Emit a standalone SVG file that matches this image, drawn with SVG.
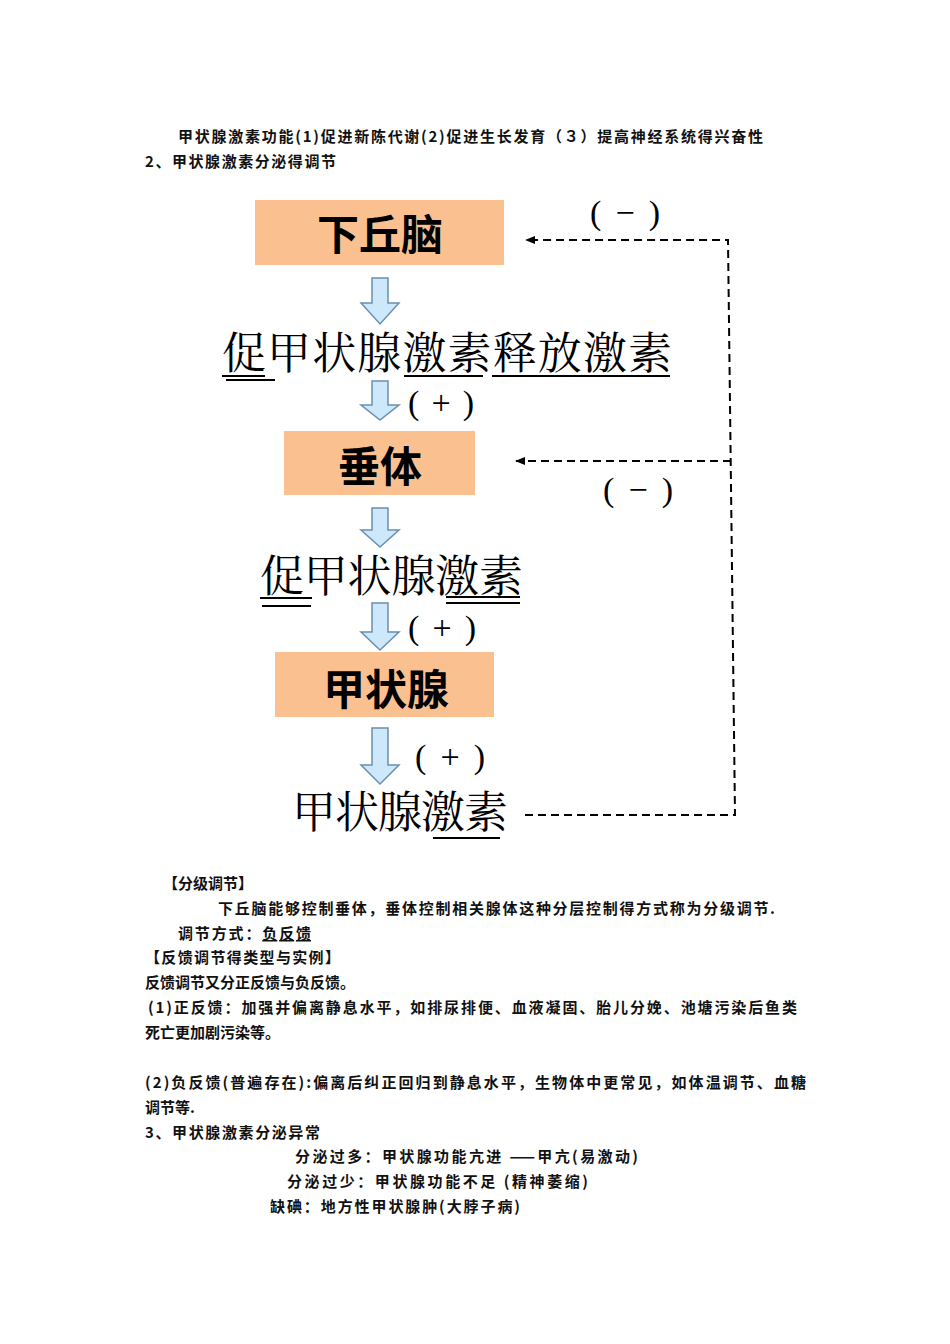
<svg xmlns="http://www.w3.org/2000/svg" width="950" height="1344" viewBox="0 0 950 1344">
<style>
.t{font-family:"Noto Sans CJK SC","Liberation Sans",sans-serif;font-size:15px;font-weight:bold;fill:#111}
.box{fill:#fac090}
.bl{font-family:"Noto Sans CJK SC",sans-serif;font-size:42px;font-weight:bold;fill:#000;text-anchor:middle}
.big{font-family:"Noto Serif CJK SC","Noto Sans CJK SC",serif;font-size:44px;fill:#000}
.sign{font-family:"Liberation Serif",serif;font-size:34px;fill:#000}
.arr{fill:#cce8fa;stroke:#6a8fb0;stroke-width:1.5}
.ul{stroke:#000;stroke-width:2}
.dash{fill:none;stroke:#000;stroke-width:2;stroke-dasharray:8 5}
</style>
<defs><marker id="ah" markerWidth="10" markerHeight="8" refX="9" refY="4" orient="auto" markerUnits="userSpaceOnUse"><path d="M0,0 L10,4 L0,8 Z" fill="#000"/></marker></defs>
<text class="t" x="178" y="142" textLength="585">甲状腺激素功能(1)促进新陈代谢(2)促进生长发育（３）提高神经系统得兴奋性</text>
<text class="t" x="145" y="167" textLength="191">2、甲状腺激素分泌得调节</text>
<g id="n1"><rect class="box" x="255" y="200" width="249" height="65"/><text class="bl" x="380" y="250">下丘脑</text></g>
<g id="n2"><text class="big" x="222" y="369" textLength="450">促甲状腺激素释放激素</text>
<line class="ul" x1="222" y1="376" x2="265" y2="376"/><line class="ul" x1="226" y1="380" x2="275" y2="380"/><line class="ul" x1="404" y1="376" x2="483" y2="376"/><line class="ul" x1="492" y1="376" x2="670" y2="376"/></g>
<g id="n3"><rect class="box" x="284" y="431" width="191" height="64"/><text class="bl" x="380" y="482">垂体</text></g>
<g id="n4"><text class="big" x="260" y="592" textLength="263">促甲状腺激素</text>
<line class="ul" x1="260" y1="598" x2="312" y2="598"/><line class="ul" x1="262" y1="606" x2="311" y2="606"/><line class="ul" x1="446" y1="597" x2="520" y2="597"/><line class="ul" x1="446" y1="603" x2="520" y2="603"/></g>
<g id="n5"><rect class="box" x="275" y="652" width="219" height="65"/><text class="bl" x="386" y="705">甲状腺</text></g>
<g id="n6"><text class="big" x="292" y="828" textLength="216">甲状腺激素</text><line class="ul" x1="433" y1="838" x2="500" y2="838"/></g>
<g id="connectors">
<path class="arr" d="M372,278 H388 V303 H399 L380,324 L361,303 H372 Z"/>
<path class="arr" d="M372,381 H388 V405 H399 L380,420 L361,405 H372 Z"/>
<path class="arr" d="M372,508 H388 V530 H399 L380,547 L361,530 H372 Z"/>
<path class="arr" d="M372,603 H388 V632 H399 L380,650 L361,632 H372 Z"/>
<path class="arr" d="M372,728 H388 V765 H399 L380,784 L361,765 H372 Z"/>
<text class="sign" x="408" y="414" textLength="66">(+)</text>
<text class="sign" x="408" y="639" textLength="68">(+)</text>
<text class="sign" x="415" y="768" textLength="70">(+)</text>
<text class="sign" x="590" y="224" textLength="70">(−)</text>
<text class="sign" x="603" y="501" textLength="70">(−)</text>
<path class="dash" d="M525,815 H735 L728,240 H526" marker-end="url(#ah)"/>
<path class="dash" d="M731,461 H516" marker-end="url(#ah)"/>
</g>
<text class="t" x="163" y="889">【分级调节】</text>
<text class="t" x="218" y="914" textLength="557">下丘脑能够控制垂体，垂体控制相关腺体这种分层控制得方式称为分级调节.</text>
<text class="t" x="178" y="939" textLength="133">调节方式：<tspan text-decoration="underline">负反馈</tspan></text>
<text class="t" x="145" y="963" textLength="195">【反馈调节得类型与实例】</text>
<text class="t" x="145" y="988">反馈调节又分正反馈与负反馈。</text>
<text class="t" x="148" y="1013" textLength="649">(1)正反馈：加强并偏离静息水平，如排尿排便、血液凝固、胎儿分娩、池塘污染后鱼类</text>
<text class="t" x="145" y="1038">死亡更加剧污染等。</text>
<text class="t" x="145" y="1088" textLength="661">(2)负反馈(普遍存在):偏离后纠正回归到静息水平，生物体中更常见，如体温调节、血糖</text>
<text class="t" x="145" y="1113">调节等.</text>
<text class="t" x="145" y="1138" textLength="175">3、甲状腺激素分泌异常</text>
<text class="t" x="295" y="1162" textLength="343">分泌过多：甲状腺功能亢进 ——甲亢(易激动)</text>
<text class="t" x="287" y="1187" textLength="301">分泌过少：甲状腺功能不足  (精神萎缩)</text>
<text class="t" x="270" y="1212" textLength="250">缺碘：地方性甲状腺肿(大脖子病)</text>
</svg>
